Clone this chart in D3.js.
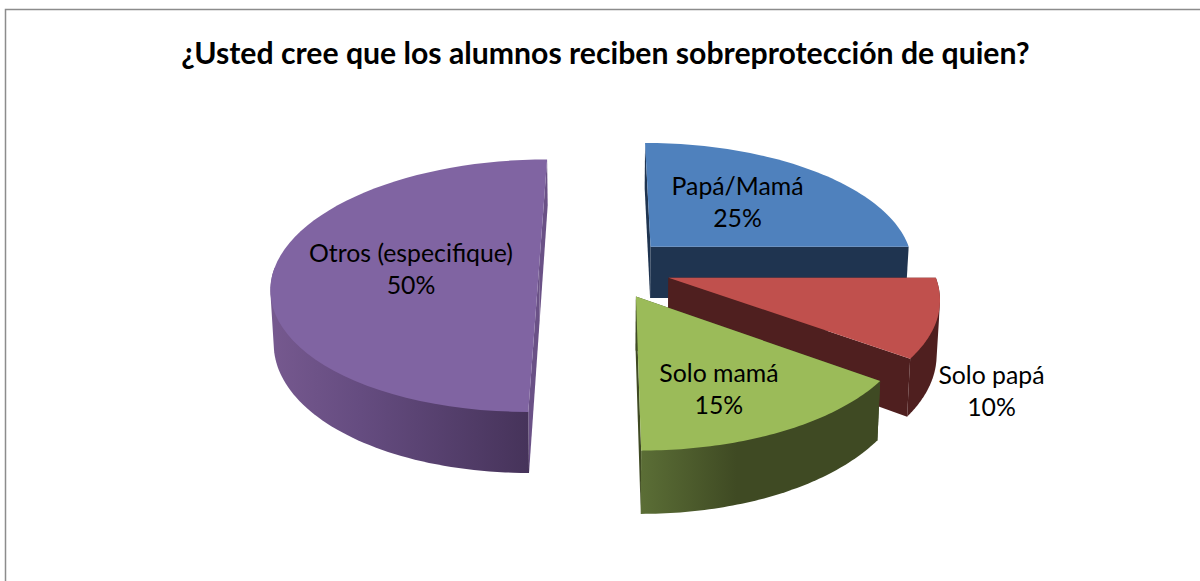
<!DOCTYPE html>
<html><head><meta charset="utf-8">
<script src="https://cdn.jsdelivr.net/npm/d3@7"></script>
<style>html,body{margin:0;background:#fff;overflow:hidden}text{font-family:Lato,"Noto Sans",sans-serif;fill:#000}</style>
</head><body><svg id="c" width="1200" height="581"></svg>
<script>
const title = "¿Usted cree que los alumnos reciben sobreprotección de quien?";
const categories = ["Papá/Mamá", "Solo papá", "Solo mamá", "Otros (especifique)"];
const values = [25, 10, 15, 50];
const topColors = ["#4f81bd", "#c0504d", "#9bbb59", "#8064a2"];
const wallColors = ["#1f3450", "#4f1f1f", "#3f4a23", "#6a5186"];
const drawOrder = [0, 1, 3, 2];
const labelOffsets = [[87, -52], [323, 106], [83, 86], [-128, -6.5]];

const W = 1200, H = 581, cx = 605, cy = 268, R = 264.5, squash = 0.468, persp = 0.14, explode = 66, depth = 52.5, taper = 0.01;
const svg = d3.select("#c");
const defs = svg.append("defs");
const grad = (id, stops) => {
  const g = defs.append("linearGradient").attr("id", id);
  stops.forEach(s => g.append("stop").attr("offset", s[0]).attr("stop-color", s[1]));
  return `url(#${id})`;
};
const rimFill = [
  wallColors[0], wallColors[1],
  grad("gGreen", [[0, "#5b6e36"], [0.4, "#3f4a23"], [1, "#3f4a23"]]),
  grad("gPurple", [[0, "#76598f"], [0.35, "#654c80"], [1, "#46335a"]])
];

svg.append("path").attr("fill", "none").attr("stroke", "#8c8c8c").attr("stroke-width", 1.5)
  .attr("d", `M5.5,${H}V9.5H${W}`);

const slices = d3.pie().sort(null).value(d => d)(values);

// ground-plane point (polar around slice centre) -> screen, with a simple perspective
const project = (a, r, off, z) => {
  const X = off[0] + r * Math.sin(a);
  const Y = (off[1] + r * -Math.cos(a)) * squash;
  const f = 1 / (1 - persp * Y / (R * squash));
  return [cx + X * f * (1 - taper * z / depth), cy + (Y + z) * f];
};
const line = d3.line();
const arcPts = (a0, a1, off, z) => d3.range(0, 61).map(i => project(a0 + (a1 - a0) * i / 60, R, off, z));

drawOrder.forEach(i => {
  const s = slices[i];
  const mid = (s.startAngle + s.endAngle) / 2;
  const off = [explode * Math.sin(mid), -explode * Math.cos(mid)];
  const g = svg.append("g");
  const c0 = project(0, 0, off, 0), c1 = project(0, 0, off, depth);
  [s.startAngle, s.endAngle].forEach(a => {
    g.append("path").attr("fill", wallColors[i])
      .attr("d", line([c0, project(a, R, off, 0), project(a, R, off, depth), c1]) + "Z");
  });
  // outer wall: only the part that faces the viewer; the hull gives the smooth silhouette
  const lo = Math.max(s.startAngle, Math.PI / 2), hi = Math.min(s.endAngle, 3 * Math.PI / 2);
  if (hi > lo) {
    g.append("path").attr("fill", rimFill[i])
      .attr("d", line(d3.polygonHull(arcPts(lo, hi, off, 0).concat(arcPts(lo, hi, off, depth)))) + "Z");
  }
  g.append("path").attr("fill", topColors[i])
    .attr("d", line([c0].concat(arcPts(s.startAngle, s.endAngle, off, 0))) + "Z");
  s.lp = [c0[0] + labelOffsets[i][0], c0[1] + labelOffsets[i][1]];
});

slices.forEach((s, i) => {
  const t = svg.append("text").attr("text-anchor", "middle").attr("font-size", 24.8);
  t.append("tspan").attr("x", s.lp[0]).attr("y", s.lp[1]).text(categories[i]);
  t.append("tspan").attr("x", s.lp[0]).attr("y", s.lp[1] + 32).text(values[i] + "%");
});

svg.append("text").attr("x", 605.5).attr("y", 64).attr("text-anchor", "middle")
  .attr("font-size", 30.2).attr("font-weight", 700).text(title);
</script></body></html>
